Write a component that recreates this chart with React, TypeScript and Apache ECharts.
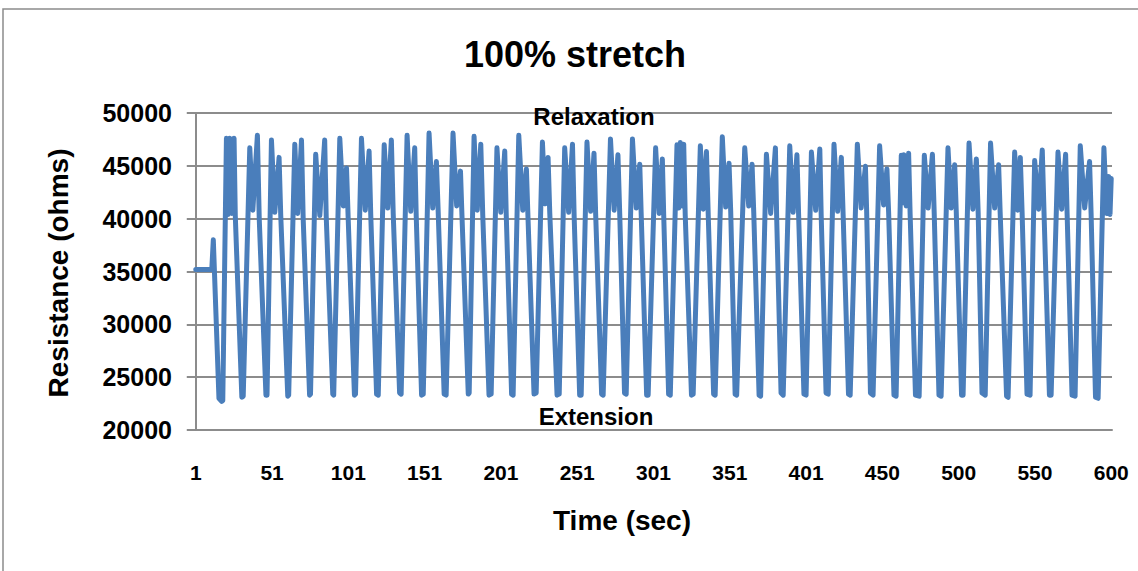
import React, { useEffect, useRef } from "react";
import * as echarts from "echarts";

// Time index (0..600) of tick labels and their texts as printed in the source chart
const xTickPositions = [0, 50, 100, 150, 200, 250, 300, 350, 400, 450, 500, 550, 600];
const xTickLabels = ["1", "51", "101", "151", "201", "251", "301", "351", "401", "450", "500", "550", "600"];

// Resistance (ohms): [time index, ohms] at each turning point
const segment1: [number, number][] = [
  [0, 35200], [10.5, 35200], [11.5, 38000], [15.2, 23000], [17, 22700], [17.7, 22800],
  [20.1, 47600], [21.2, 40400], [22.3, 47600], [23.6, 40500], [25.1, 47600], [25.9, 40300], [30.2, 23100], [31.1, 23200],
  [35.4, 46700], [37.4, 40800], [40.4, 47900], [41.6, 40000], [46.0, 23300], [46.7, 23300],
  [49.6, 47450], [51.8, 40600], [54.6, 45800], [55.7, 40300], [60.3, 23200], [60.9, 23300],
  [64.9, 47050], [66.8, 40500], [69.3, 47450], [70.4, 40000], [74.6, 23300], [75.2, 23400],
  [78.6, 46100], [81.3, 40300], [84.5, 47450], [85.5, 40200], [89.8, 23400], [90.4, 23300],
  [94.4, 47600], [96.7, 41200], [98.8, 44800], [99.9, 40000], [104.0, 23300], [104.7, 23400],
  [108.6, 47600], [111.1, 40800], [113.6, 46400], [114.7, 40300], [118.5, 23400], [119.6, 23300],
  [123.5, 47000], [125.8, 41000], [128.2, 47450], [129.4, 40500], [133.6, 23500], [134.6, 23400],
  [138.5, 47900], [140.9, 40700], [143.5, 46700], [144.5, 40200], [148.0, 23300], [149.1, 23400],
];
const segment2: [number, number][] = [
  [152.9, 48100], [155.3, 41000], [157.7, 45400], [158.9, 40600], [162.8, 23400], [164.1, 23300],
  [168.6, 48100], [171.0, 41200], [173.5, 44500], [174.3, 41000], [178.6, 23400], [179.2, 23500],
  [182.4, 47800], [184.5, 40800], [186.8, 47050], [188.1, 40300], [192.2, 23300], [193.6, 23400],
  [197.4, 46700], [199.9, 40600], [202.5, 46400], [203.5, 40300], [207.0, 23400], [208.0, 23300],
  [211.7, 47900], [214.3, 40800], [216.7, 44700], [217.6, 40700], [221.7, 23400], [223.1, 23500],
  [227.2, 47250], [229.0, 41400], [230.9, 45800], [232.0, 40600], [236.8, 23300], [238.2, 23400],
  [241.8, 46700], [244.4, 40600], [246.9, 47050], [248.0, 40200], [251.6, 23300], [252.6, 23300],
  [256.4, 47250], [258.8, 40700], [261.0, 46200], [262.1, 40400], [266.0, 23400], [267.0, 23300],
  [271.8, 47550], [274.2, 40800], [276.7, 46050], [277.9, 40300], [281.0, 23500], [282.1, 23400],
  [286.2, 47550], [288.7, 41000], [291.0, 45150], [291.9, 40600], [295.5, 23300], [296.5, 23300],
];
const segment3: [number, number][] = [
  [301.4, 46700], [303.7, 40500], [305.8, 45650], [306.7, 40300], [309.9, 23400], [311.0, 23300],
  [315.4, 47000], [316.5, 41000], [317.6, 47200], [318.7, 41200], [319.8, 47050], [320.8, 40300], [324.9, 23300], [326.0, 23400],
  [330.7, 46900], [332.6, 40900], [334.7, 46350], [335.9, 40200], [339.4, 23400], [340.4, 23300],
  [345.1, 47750], [347.3, 41100], [349.5, 45250], [350.6, 40700], [353.5, 23400], [354.5, 23300],
  [359.8, 46700], [362.4, 41200], [364.6, 45150], [365.7, 40600], [369.2, 23300], [370.2, 23200],
  [374.0, 46100], [376.8, 40500], [379.9, 46700], [380.7, 40300], [383.6, 23500], [385.0, 23300],
  [389.3, 46900], [391.5, 40600], [394.0, 46050], [395.1, 40400], [398.6, 23400], [400.0, 23300],
  [403.5, 46300], [406.3, 40800], [409.0, 46600], [409.9, 40300], [413.1, 23500], [414.5, 23400],
  [418.3, 47050], [420.7, 40700], [423.1, 45800], [424.3, 40300], [427.8, 23400], [428.9, 23300],
  [433.6, 47050], [436.1, 41000], [438.9, 44950], [439.7, 40700], [442.2, 23500], [443.9, 23300],
  [448.2, 46900], [450.8, 41300], [453.0, 44700], [454.1, 40600], [457.6, 23300], [459.0, 23200],
];
const segment4: [number, number][] = [
  [462.4, 46000], [463.3, 41500], [464.1, 46050], [465.6, 41200], [467.2, 46200], [468.2, 40400], [471.7, 23300], [474.1, 23200],
  [477.5, 46000], [480.0, 41000], [482.8, 46100], [484.0, 40400], [487.1, 23300], [488.5, 23200],
  [493.0, 46700], [495.1, 41000], [497.4, 45100], [498.4, 40800], [501.9, 23300], [502.9, 23300],
  [506.8, 47150], [509.3, 40900], [511.6, 45650], [512.8, 40500], [515.3, 23500], [517.4, 23300],
  [520.9, 47150], [523.6, 41000], [526.2, 45100], [527.2, 40600], [531.4, 23200], [532.4, 23100],
  [536.7, 46300], [538.7, 40800], [540.4, 45800], [541.6, 40500], [544.8, 23400], [546.8, 23300],
  [549.8, 45500], [552.4, 40900], [554.8, 46500], [556.0, 40300], [559.5, 23300], [560.6, 23300],
  [565.1, 46300], [567.5, 40900], [570.1, 46100], [571.1, 40400], [574.3, 23300], [576.3, 23200],
  [579.7, 46900], [582.6, 41000], [585.8, 45400], [586.8, 40500], [589.7, 23100], [591.4, 23000],
  [595.2, 46700], [597.0, 40500], [598.3, 44000], [599.2, 40400], [600, 43800],
];

const FONT = "'Liberation Sans', Arial, sans-serif";

export default function App() {
  const ref = useRef<HTMLDivElement>(null);

  useEffect(() => {
    if (!ref.current) return;
    const chart = echarts.init(ref.current, undefined, { renderer: "svg" });
    const data = [...segment1, ...segment2, ...segment3, ...segment4];

    chart.setOption({
      animation: false,
      backgroundColor: "#ffffff",
      grid: {
        left: 195,
        top: 113,
        right: 26,
        bottom: 141,
        containLabel: false,
        outerBoundsMode: "none",
      },
      xAxis: {
        type: "value",
        min: -0.5,
        max: 600.5,
        axisLine: { show: true, lineStyle: { color: "#8c8c8c", width: 2 } },
        axisTick: { show: false },
        splitLine: { show: false },
        axisLabel: {
          customValues: xTickPositions,
          formatter: (v: number) => {
            const i = xTickPositions.indexOf(Math.round(v));
            return i >= 0 ? xTickLabels[i] : "";
          },
          color: "#000",
          fontFamily: FONT,
          fontWeight: "bold",
          fontSize: 21,
          margin: 32,
        },
      },
      yAxis: {
        type: "value",
        min: 20000,
        max: 50000,
        interval: 5000,
        axisLine: { show: true, lineStyle: { color: "#8c8c8c", width: 2 } },
        axisTick: { show: true, length: 9, lineStyle: { color: "#8c8c8c", width: 2 } },
        splitLine: { show: true, lineStyle: { color: "#8c8c8c", width: 2 } },
        axisLabel: {
          formatter: (v: number) => String(v),
          color: "#000",
          fontFamily: FONT,
          fontWeight: "bold",
          fontSize: 25,
          margin: 23,
        },
      },
      series: [
        {
          type: "line",
          data,
          showSymbol: false,
          symbol: "none",
          smooth: false,
          lineStyle: { color: "#4a7ebb", width: 5, join: "round", cap: "round" },
          z: 3,
        },
      ],
      graphic: [
        {
          type: "rect",
          shape: { x: 3, y: 9, width: 1150, height: 580 },
          style: { fill: "none", stroke: "#8c8c8c", lineWidth: 1.5 },
          silent: true,
        },
        {
          type: "text",
          x: 575,
          y: 54,
          style: { text: "100% stretch", font: `bold 36px ${FONT}`, fill: "#000", align: "center", verticalAlign: "middle", textAlign: "center", textVerticalAlign: "middle" },
        },
        {
          type: "text",
          x: 594,
          y: 116,
          z: 10,
          style: { text: "Relaxation", font: `bold 24px ${FONT}`, fill: "#000", align: "center", verticalAlign: "middle", textAlign: "center", textVerticalAlign: "middle" },
        },
        {
          type: "text",
          x: 596,
          y: 416,
          z: 10,
          style: { text: "Extension", font: `bold 24px ${FONT}`, fill: "#000", align: "center", verticalAlign: "middle", textAlign: "center", textVerticalAlign: "middle" },
        },
        {
          type: "text",
          x: 622,
          y: 520,
          style: { text: "Time (sec)", font: `bold 28px ${FONT}`, fill: "#000", align: "center", verticalAlign: "middle", textAlign: "center", textVerticalAlign: "middle" },
        },
        {
          type: "text",
          x: 58,
          y: 273,
          rotation: Math.PI / 2,
          style: { text: "Resistance (ohms)", font: `bold 28px ${FONT}`, fill: "#000", align: "center", verticalAlign: "middle", textAlign: "center", textVerticalAlign: "middle" },
        },
      ],
    });

    return () => chart.dispose();
  }, []);

  return (
    <div
      ref={ref}
      style={{ position: "fixed", left: 0, top: 0, width: 1138, height: 571, background: "#fff" }}
    />
  );
}
